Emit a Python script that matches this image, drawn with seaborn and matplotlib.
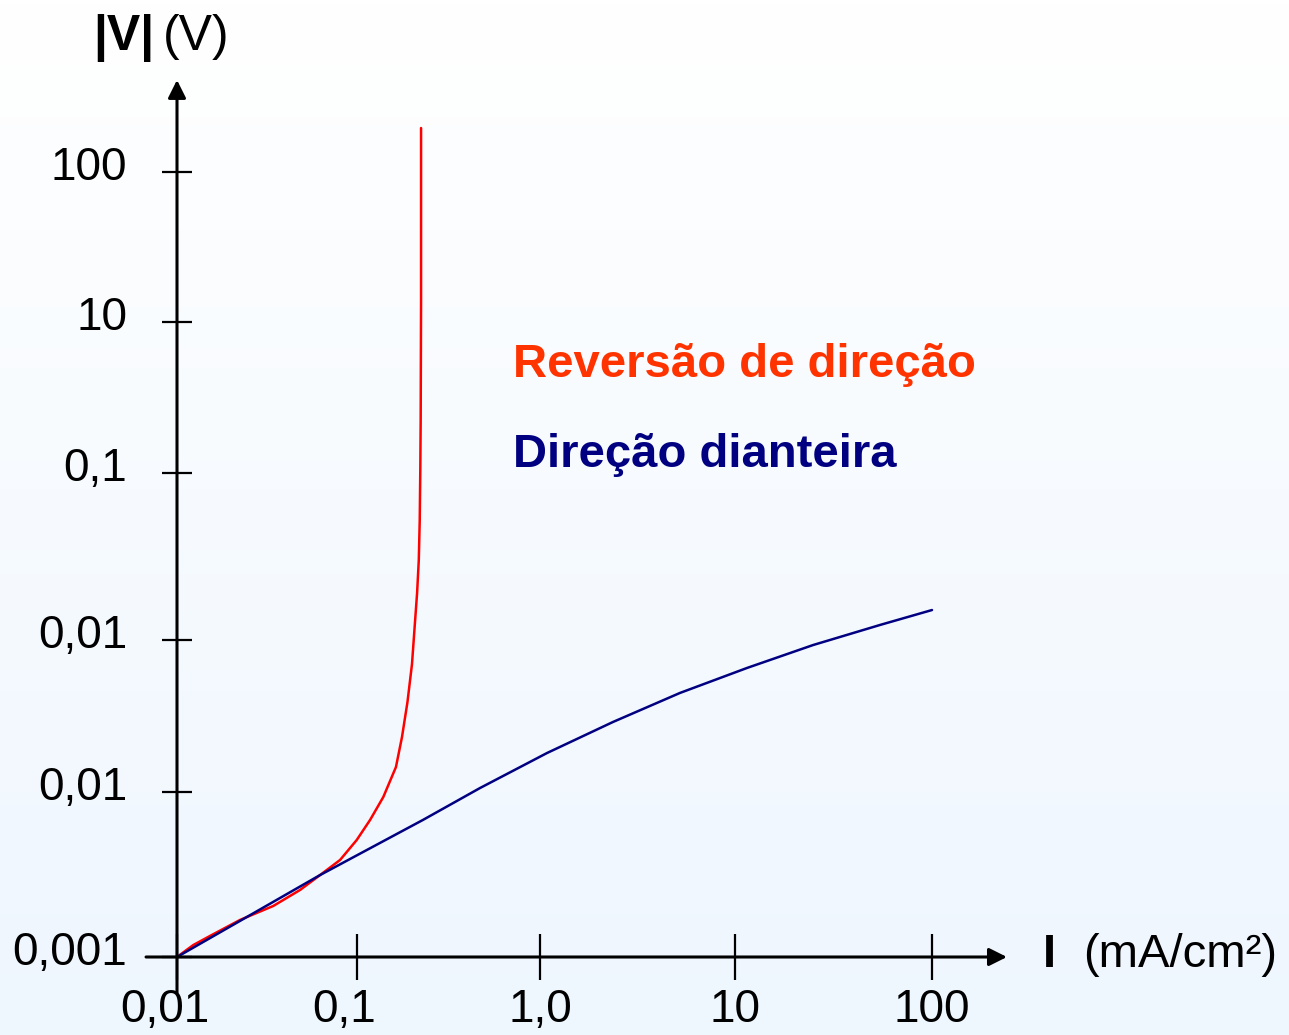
import numpy as np
import matplotlib
matplotlib.use("Agg")
import matplotlib.pyplot as plt
import matplotlib.transforms as mtransforms
from matplotlib.colors import LinearSegmentedColormap
import seaborn as sns

# axis positions (decades from the origin) and their labels
x_ticks = [0.0, 0.954, 1.923, 2.956, 4.0]
x_labels = ["0,01", "0,1", "1,0", "10", "100"]
y_ticks = [0.0, 1.051, 2.019, 3.083, 4.045, 5.0]
y_labels = ["0,001", "0,01", "0,01", "0,1", "10", "100"]

# reverse direction curve (red)
rev_x = [0.0, 0.086, 0.184, 0.334, 0.510, 0.652, 0.758, 0.864, 0.952, 1.023,
         1.093, 1.160, 1.192, 1.221, 1.245, 1.259, 1.272, 1.281, 1.286, 1.289,
         1.291, 1.293, 1.293]
rev_y = [0.0, 0.076, 0.140, 0.236, 0.325, 0.427, 0.522, 0.618, 0.745, 0.873,
         1.019, 1.210, 1.401, 1.624, 1.866, 2.102, 2.318, 2.529, 2.783, 3.102,
         3.420, 4.185, 5.280]

# forward direction curve (navy)
fwd_x = [0.0, 0.758, 1.303, 1.605, 1.960, 2.310, 2.665, 3.020, 3.370, 3.725, 4.0]
fwd_y = [0.0, 0.522, 0.873, 1.076, 1.299, 1.497, 1.682, 1.841, 1.987, 2.115, 2.210]

sns.set_theme(style="white")
plt.rcParams["font.family"] = ["Liberation Sans", "DejaVu Sans"]

W, H = 1289, 1035
fig = plt.figure(figsize=(W / 100, H / 100), dpi=100)

# soft vertical background gradient
bg = fig.add_axes([0, 0, 1, 1], zorder=-10)
grad = np.linspace(0, 1, 256).reshape(-1, 1)
cmap = LinearSegmentedColormap.from_list("bg", ["#ffffff", "#eef6fe"])
bg.imshow(grad, aspect="auto", cmap=cmap, extent=[0, 1, 0, 1], origin="upper")
bg.axis("off")

# main axes placed so the origin and end ticks sit where the reference has them
x0, x1, y0, y1 = 177, 932, 957, 172
ax = fig.add_axes([x0 / W, (H - y0) / H, (x1 - x0) / W, (y0 - y1) / H])
ax.set_facecolor("none")
ax.set_xlim(0, 4)
ax.set_ylim(0, 5)
for s in ax.spines.values():
    s.set_visible(False)

sns.lineplot(x=rev_x, y=rev_y, sort=False, estimator=None, color="#ff0000",
             lw=1.8, ax=ax, clip_on=False)
sns.lineplot(x=fwd_x, y=fwd_y, sort=False, estimator=None, color="#000080",
             lw=1.8, ax=ax, clip_on=False)

# axis lines with arrow heads
arrow = dict(arrowstyle="-|>,head_length=0.6,head_width=0.3", lw=2.2,
             color="black", shrinkA=0, shrinkB=0, mutation_scale=18)
ax.annotate("", xy=(4.397, 0), xytext=(-0.164, 0), arrowprops=arrow,
            annotation_clip=False)
ax.annotate("", xy=(0, 5.586), xytext=(0, -0.229), arrowprops=arrow,
            annotation_clip=False)

ax.set_xticks(x_ticks, x_labels)
ax.set_yticks(y_ticks, y_labels)
ax.tick_params(axis="x", direction="inout", length=33, width=1.6,
               color="black", labelcolor="black", labelsize=33, pad=6,
               bottom=True)
ax.tick_params(axis="y", direction="inout", length=21.6, width=1.6,
               color="black", labelcolor="black", labelsize=33, pad=25,
               left=True)
shift = mtransforms.ScaledTranslation(0, 6.5 / 72, fig.dpi_scale_trans)
for lbl in ax.get_yticklabels():
    lbl.set_transform(lbl.get_transform() + shift)
# the first two x labels sit a little left of their ticks in the original
left = mtransforms.ScaledTranslation(-9 / 72, 0, fig.dpi_scale_trans)
for lbl in ax.get_xticklabels()[:2]:
    lbl.set_transform(lbl.get_transform() + left)
ax.set_xlabel("")
ax.set_ylabel("")

# axis titles
ax.text(-0.445, 5.78, "|V|", fontsize=36, fontweight="bold", va="baseline",
        ha="left", clip_on=False, color="black")
ax.text(-0.074, 5.78, "(V)", fontsize=36, va="baseline", ha="left",
        clip_on=False, color="black")
ax.text(4.588, -0.064, "I", fontsize=34, fontweight="bold", va="baseline",
        ha="left", clip_on=False, color="black")
ax.text(4.800, -0.064, "(mA/cm²)", fontsize=34, va="baseline", ha="left",
        clip_on=False, color="black")

# curve labels
ax.text(1.780, 3.694, "Reversão de direção", fontsize=34, fontweight="bold",
        color="#ff3300", va="baseline", ha="left")
ax.text(1.780, 3.121, "Direção dianteira", fontsize=34, fontweight="bold",
        color="#000080", va="baseline", ha="left")

fig.savefig("out.png", dpi=100)
